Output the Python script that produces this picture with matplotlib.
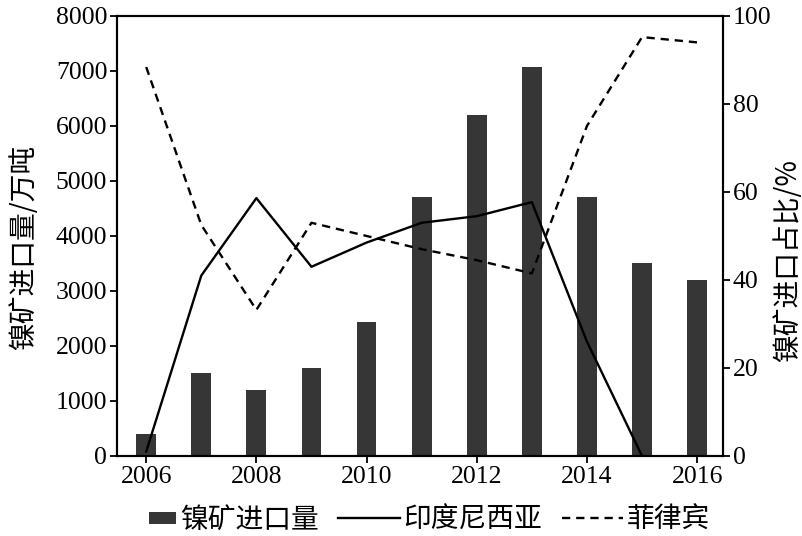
import matplotlib
matplotlib.use("Agg")
import matplotlib.pyplot as plt
from matplotlib.lines import Line2D
from matplotlib.patches import Patch, Rectangle
from matplotlib.legend_handler import HandlerPatch

years = [2006, 2007, 2008, 2009, 2010, 2011, 2012, 2013, 2014, 2015, 2016]
imports = [400, 1500, 1200, 1600, 2440, 4700, 6200, 7070, 4700, 3500, 3200]
indo_years = [2006, 2007, 2008, 2009, 2010, 2011, 2012, 2013, 2014, 2015]
indonesia = [1, 41, 58.6, 43, 48.5, 53, 54.5, 57.7, 26, 0]
philippines = [88.4, 52.5, 33.2, 53, 50, 47, 44.5, 41.5, 75, 95.2, 94]
xticks = [2006, 2008, 2010, 2012, 2014, 2016]

cjk = ['Noto Sans CJK SC', 'DejaVu Sans']
serif = 'Liberation Serif'
bar_color = '#363636'
dash = (0, (3.5, 2.5))

fig = plt.figure(figsize=(8.03, 5.36), dpi=100)
ax = fig.add_axes([0.1457, 0.1493, 0.7547, 0.8209])
ax2 = ax.twinx()

ax.bar(years, imports, width=0.36, color=bar_color, zorder=2)
ax.set_ylim(0, 8000)
ax.set_xlim(2005.47, 2016.47)
ax.set_yticks(range(0, 8001, 1000))
ax.set_xticks(xticks)
ax.set_xticklabels([str(x) for x in xticks], fontfamily=serif, fontsize=18.5)
for lab in ax.get_yticklabels():
    lab.set_fontfamily(serif)
    lab.set_fontsize(18.5)
ax.set_ylabel('镍矿进口量/万吨', fontfamily=cjk, fontsize=20)
ax.yaxis.set_label_coords(-0.128, 0.473)

ax2.plot(indo_years, indonesia, color='black', lw=1.7, zorder=3)
ax2.plot(years, philippines, color='black', lw=1.7, ls=dash, zorder=3)
ax2.set_ylim(0, 100)
ax2.set_yticks(range(0, 101, 20))
for lab in ax2.get_yticklabels():
    lab.set_fontfamily(serif)
    lab.set_fontsize(18.5)
ax2.set_ylabel('镍矿进口占比/%', fontfamily=cjk, fontsize=20)
ax2.yaxis.set_label_coords(1.082, 0.445)

for a in (ax, ax2):
    for s in a.spines.values():
        s.set_linewidth(1.5)
    a.tick_params(width=1.3, length=5, pad=2, colors='black')


def right_rect(legend, orig_handle, xdescent, ydescent, width, height, fontsize):
    w = width * 0.44
    h = height * 0.62
    return Rectangle((width - w - xdescent, -ydescent + (height - h) / 2), w, h)


handles = [Patch(facecolor=bar_color, edgecolor='none'),
           Line2D([0], [0], color='black', lw=1.7),
           Line2D([0], [0], color='black', lw=1.7, ls=dash)]
labels = ['镍矿进口量', '印度尼西亚', '菲律宾']
fig.legend(handles, labels, loc='lower center', bbox_to_anchor=(0.514, -0.045), ncol=3,
           frameon=False, prop={'family': cjk, 'size': 20}, handlelength=2.2,
           handletextpad=0.15, columnspacing=0.7,
           handler_map={Patch: HandlerPatch(patch_func=right_rect)})

fig.savefig('out.png', dpi=100)
